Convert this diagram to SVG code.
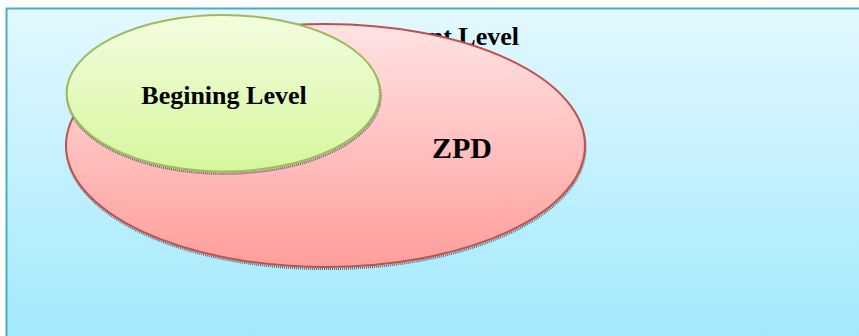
<svg xmlns="http://www.w3.org/2000/svg" width="859" height="336" viewBox="0 0 859 336">
  <defs>
    <linearGradient id="bg" x1="0" y1="0" x2="0" y2="1">
      <stop offset="0" stop-color="#e3f8fe"/>
      <stop offset="1" stop-color="#9ee8fd"/>
    </linearGradient>
    <linearGradient id="pink" x1="0" y1="0" x2="0" y2="1">
      <stop offset="0" stop-color="#ffe3e3"/>
      <stop offset="1" stop-color="#ff9e9b"/>
    </linearGradient>
    <linearGradient id="green" x1="0" y1="0" x2="0" y2="1">
      <stop offset="0" stop-color="#f3fddf"/>
      <stop offset="1" stop-color="#d6f79c"/>
    </linearGradient>
  </defs>
  <style>
    .lbl { font-family: "Liberation Serif", "Times New Roman", serif; font-weight: bold; fill: #000; }
    .shadow { fill: none; stroke: #5a6a70; stroke-width: 2.2; stroke-dasharray: 1 1; }
  </style>
  <rect x="0" y="0" width="859" height="336" fill="#ffffff"/>
  <rect id="background" x="6.5" y="8.5" width="870" height="350" fill="url(#bg)" stroke="#4bacc6" stroke-width="2"/>
  <g id="outer-label">
    <text class="lbl" x="519" y="45" font-size="26" text-anchor="end">nt Level</text>
  </g>
  <g id="zpd">
    <ellipse class="shadow" cx="326" cy="147.5" rx="259.5" ry="121.5"/>
    <ellipse cx="325.5" cy="145.5" rx="259.5" ry="121.5" fill="url(#pink)" stroke="#c0504d" stroke-width="2"/>
    <text class="lbl" x="462" y="158" font-size="30" text-anchor="middle">ZPD</text>
  </g>
  <g id="beginning">
    <ellipse class="shadow" cx="224" cy="95.5" rx="156.7" ry="78.3"/>
    <ellipse cx="223.3" cy="93.3" rx="156.7" ry="78.3" fill="url(#green)" stroke="#9bbb59" stroke-width="2"/>
    <text class="lbl" x="224" y="103.5" font-size="26" text-anchor="middle">Begining Level</text>
  </g>
  <g id="connectors"/>
</svg>
